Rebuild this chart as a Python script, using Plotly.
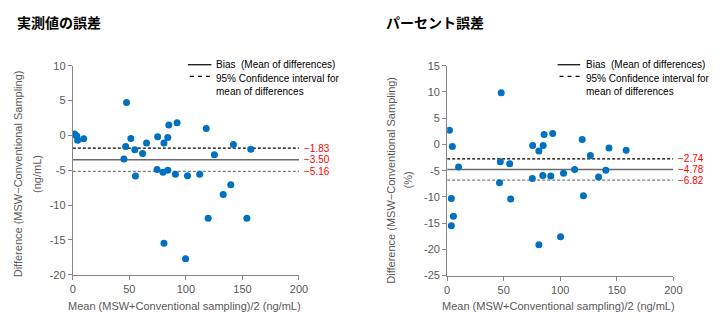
import plotly.graph_objects as go

# ---------------- data ----------------
abs_mean = [1.4, 2.0, 3.5, 4.3, 9.6, 47.5, 51.3, 46.7, 54.8, 45.2, 61.7, 65.2, 75.0, 80.6, 84.0,
            84.9, 92.2, 118.0, 125.2, 142.0, 157.4, 74.5, 79.7, 84.0, 90.7, 101.4, 112.2, 55.4,
            139.7, 133.0, 119.7, 153.9, 80.6, 99.7]
abs_diff = [0.2, 0.1, -0.1, -0.7, -0.5, 4.7, -0.46, -1.6, -2.07, -3.4, -2.6, -1.1, -0.2, -1.1, -0.3,
            1.5, 1.8, 0.97, -2.8, -1.3, -2.0, -4.9, -5.3, -5.0, -5.6, -5.8, -5.6, -5.85,
            -7.1, -8.5, -11.9, -11.9, -15.5, -17.7]
abs_lines = [-1.83, -3.50, -5.16]   # upper CI, bias, lower CI

pct_mean = [47.8, 2.0, 4.6, 10.1, 47.0, 55.3, 75.6, 81.1, 84.9, 85.7, 93.3, 119.4, 126.6, 143.1,
            158.3, 112.7, 140.3, 46.3, 75.3, 84.6, 91.6, 102.9, 133.9, 3.7, 56.2, 5.5, 3.7,
            120.5, 100.3, 81.1]
pct_diff = [9.86, 2.7, -0.4, -4.3, -3.3, -3.66, -0.2, -1.27, -0.2, 1.9, 2.1, 0.93, -2.1, -0.7,
            -1.1, -4.8, -4.9, -7.3, -6.5, -5.9, -6.0, -5.5, -6.2, -10.3, -10.4, -13.7, -15.5,
            -9.8, -17.6, -19.1]
pct_lines = [-2.74, -4.78, -6.82]

x_ticks = [0, 50, 100, 150, 200]
abs_yticks = [10, 5, 0, -5, -10, -15, -20]
pct_yticks = [15, 10, 5, 0, -5, -10, -15, -20, -25]

titles = ["実測値の誤差", "パーセント誤差"]
ytitle1 = "Difference (MSW\u2212Conventional Sampling)"
ytitle2 = ["(ng/mL)", "(%)"]
xtitle = "Mean (MSW+Conventional sampling)/2 (ng/mL)"
legend_bias = "Bias  (Mean of differences)"
legend_ci = "95% Confidence interval for<br>mean of differences"

# ---------------- figure ----------------
W, H = 720, 324
def px(x): return x / W
def py(y): return 1 - y / H

FONT = "Liberation Sans, Arial, sans-serif"
GRAY = "#595959"
AXIS = "#868686"

fig = go.Figure()
fig.add_trace(go.Scatter(x=abs_mean, y=abs_diff, mode="markers", xaxis="x", yaxis="y",
                         marker=dict(color="#0070C0", size=7), showlegend=False))
fig.add_trace(go.Scatter(x=pct_mean, y=pct_diff, mode="markers", xaxis="x2", yaxis="y2",
                         marker=dict(color="#0070C0", size=7), showlegend=False))

def fmt(v):
    return ("\u2212" if v < 0 else "") + f"{abs(v):.2f}"

ax_common = dict(showgrid=False, zeroline=False, showline=True, linecolor=AXIS, linewidth=1,
                 ticks="outside", ticklen=4, tickcolor=AXIS,
                 tickfont=dict(family=FONT, size=11, color=GRAY))

layout = dict(
    width=W, height=H, margin=dict(l=0, r=0, t=0, b=0),
    paper_bgcolor="white", plot_bgcolor="white", showlegend=False,
    xaxis=dict(domain=[px(71), px(301)], range=[0, 200], anchor="y",
               tickvals=x_ticks, ticktext=[str(v) for v in x_ticks], **ax_common),
    yaxis=dict(domain=[py(279), py(62)], range=[-20, 10], anchor="x",
               tickvals=abs_yticks, ticktext=[str(v) for v in abs_yticks], **ax_common),
    xaxis2=dict(domain=[px(451.7), px(681.7)], range=[0, 200], anchor="y2",
                tickvals=x_ticks, ticktext=[str(v) for v in x_ticks], **ax_common),
    yaxis2=dict(domain=[py(280), py(62)], range=[-25, 15], anchor="x2",
                tickvals=pct_yticks, ticktext=[str(v) for v in pct_yticks], **ax_common),
)
fig.update_layout(**layout)

shapes = []
annots = []
line_styles = [dict(color="#000000", width=1.2, dash="3px,2px"),
               dict(color="#6b6b6b", width=1.6),
               dict(color="#7f7f7f", width=1.2, dash="3px,2px")]

for xr, yr, vals in [("x", "y", abs_lines), ("x2", "y2", pct_lines)]:
    for v, st in zip(vals, line_styles):
        shapes.append(dict(type="line", xref=xr, yref=yr, x0=0, x1=200, y0=v, y1=v, line=st, layer="below"))
        annots.append(dict(xref=xr, yref=yr, x=200, y=v, text=fmt(v), showarrow=False,
                           xanchor="left", yanchor="middle", xshift=3,
                           font=dict(family=FONT, size=10, color="#FF0000")))

# titles
for x0, t in [(12, titles[0]), (387, titles[1])]:
    annots.append(dict(xref="paper", yref="paper", x=px(x0), y=py(17), text=f"<b>{t}</b>",
                       showarrow=False, xanchor="left", yanchor="middle",
                       font=dict(family="Noto Sans CJK JP", size=14, color="#000000")))

# y-axis titles
for xa, xb, yc, t2 in [(15, 34, 174, ytitle2[0]), (395, 412, 181, ytitle2[1])]:
    annots.append(dict(xref="paper", yref="paper", x=px(xa), y=py(yc), text=ytitle1, textangle=-90,
                       showarrow=False, xanchor="center", yanchor="middle",
                       font=dict(family=FONT, size=11, color=GRAY)))
    annots.append(dict(xref="paper", yref="paper", x=px(xb), y=py(yc), text=t2, textangle=-90,
                       showarrow=False, xanchor="center", yanchor="middle",
                       font=dict(family=FONT, size=11, color=GRAY)))

# x-axis titles
for xc in [185, 565]:
    annots.append(dict(xref="paper", yref="paper", x=px(xc), y=py(312), text=xtitle,
                       showarrow=False, xanchor="center", yanchor="middle",
                       font=dict(family=FONT, size=11, color=GRAY)))

# legends
for lx0, lx1, tx in [(188, 212, 215), (564, 587, 591)]:
    shapes.append(dict(type="line", xref="paper", yref="paper", x0=px(lx0), x1=px(lx1),
                       y0=py(61), y1=py(61), line=dict(color="#000000", width=1.2)))
    shapes.append(dict(type="line", xref="paper", yref="paper", x0=px(lx0 + 2), x1=px(lx1),
                       y0=py(73), y1=py(73), line=dict(color="#000000", width=1.2, dash="4px,4px")))
    annots.append(dict(xref="paper", yref="paper", x=px(tx), y=py(61), text=legend_bias,
                       showarrow=False, xanchor="left", yanchor="middle",
                       font=dict(family=FONT, size=10, color="#000000")))
    annots.append(dict(xref="paper", yref="paper", x=px(tx), y=py(67), text=legend_ci,
                       showarrow=False, xanchor="left", yanchor="top", align="left",
                       font=dict(family=FONT, size=10, color="#000000")))

fig.update_layout(shapes=shapes, annotations=annots)
fig.write_html("out.html", config={"displayModeBar": False},
               post_script="document.body.style.margin='0px';document.body.style.padding='0px';")
